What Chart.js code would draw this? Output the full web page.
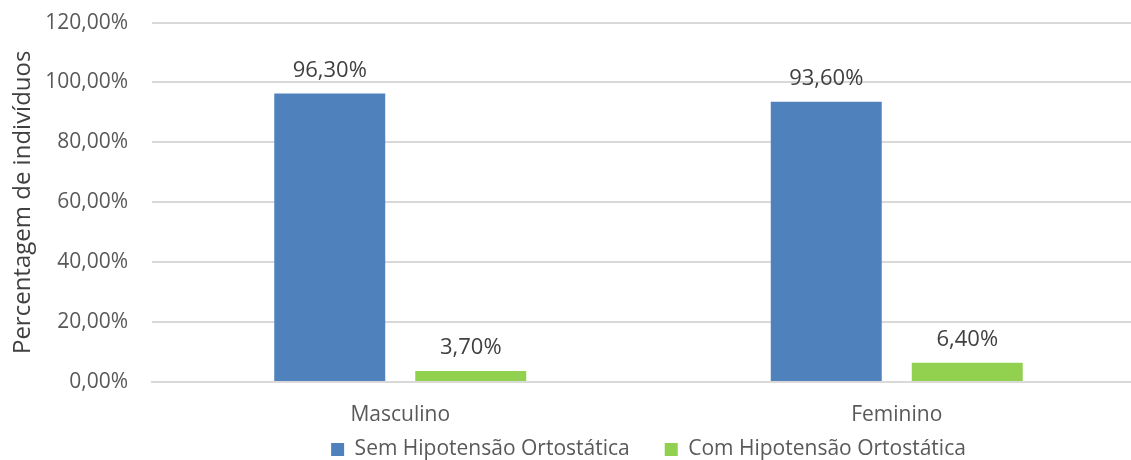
<!DOCTYPE html>
<html>
<head>
<meta charset="utf-8">
<script src="https://cdn.jsdelivr.net/npm/chart.js@4.4.1/dist/chart.umd.min.js"></script>
<style>
    html, body { margin: 0; padding: 0; background: #fff; overflow: hidden; }
    #wrap { width: 1145px; height: 505px; position: relative; top: -14px; }
</style>
</head>
<body>
<div id="wrap"><canvas id="myChart"></canvas></div>
<script>
const categories = ['Masculino', 'Feminino'];
const semHipotensao = [96.3, 93.6];
const comHipotensao = [3.7, 6.4];
const seriesNames = ['Sem Hipotensão Ortostática', 'Com Hipotensão Ortostática'];
const yTicks = [0, 20, 40, 60, 80, 100, 120];

const fontFamily = '"Open Sans", sans-serif';

function pct(v) {
    return v.toFixed(2).replace('.', ',') + '%';
}

// value labels over every bar
const barLabels = {
    id: 'barLabels',
    afterDatasetsDraw(chart) {
        const ctx = chart.ctx;
        ctx.save();
        ctx.font = '22px ' + fontFamily;
        ctx.fillStyle = '#404040';
        ctx.textAlign = 'center';
        ctx.textBaseline = 'middle';
        chart.data.datasets.forEach((ds, i) => {
            chart.getDatasetMeta(i).data.forEach((bar, j) => {
                ctx.fillText(pct(ds.data[j]), bar.x, bar.y - 23);
            });
        });
        ctx.restore();
    }
};

// pull the legend up under the axis labels and center it on the plot area
const legendSpot = {
    id: 'legendSpot',
    afterLayout(chart) {
        const lg = chart.legend;
        if (!lg) return;
        lg.top -= 21;
        lg.bottom -= 21;
        lg.left = chart.chartArea.left;
        lg.right = chart.chartArea.right;
    }
};

const ctx = document.getElementById('myChart');

new Chart(ctx, {
    type: 'bar',
    data: {
        labels: categories,
        datasets: [
            {
                label: seriesNames[0],
                data: semHipotensao,
                backgroundColor: '#4F81BD',
                categoryPercentage: 0.568,
                barPercentage: 0.787
            },
            {
                label: seriesNames[1],
                data: comHipotensao,
                backgroundColor: '#92D050',
                categoryPercentage: 0.568,
                barPercentage: 0.787
            }
        ]
    },
    options: {
        responsive: true,
        maintainAspectRatio: false,
        animation: false,
        layout: {
            padding: { top: 0, left: 0, right: 0, bottom: 0 }
        },
        plugins: {
            legend: {
                position: 'bottom',
                labels: {
                    boxWidth: 13,
                    boxHeight: 13,
                    padding: 35,
                    color: '#595959',
                    font: { family: fontFamily, size: 21 }
                }
            },
            tooltip: { enabled: false }
        },
        scales: {
            y: {
                min: 0,
                max: 120,
                afterBuildTicks: (scale) => {
                    scale.ticks = yTicks.map(v => ({ value: v }));
                },
                afterFit: (scale) => {
                    scale.width = 152;
                },
                border: { display: false },
                grid: {
                    color: '#d9d9d9',
                    lineWidth: 2,
                    drawTicks: false
                },
                ticks: {
                    color: '#595959',
                    padding: 24,
                    font: { family: fontFamily, size: 21 },
                    callback: (v) => pct(v)
                },
                title: {
                    display: true,
                    text: 'Percentagem de indivíduos',
                    color: '#404040',
                    font: { family: fontFamily, size: 24 },
                    padding: { top: 9, bottom: 0 }
                }
            },
            x: {
                afterFit: (scale) => {
                    scale.height = 43;
                },
                border: { display: true, color: '#d9d9d9', width: 2 },
                grid: { display: false },
                ticks: {
                    color: '#595959',
                    padding: 12,
                    font: { family: fontFamily, size: 21 }
                }
            }
        }
    },
    plugins: [barLabels, legendSpot]
});
</script>
</body>
</html>
